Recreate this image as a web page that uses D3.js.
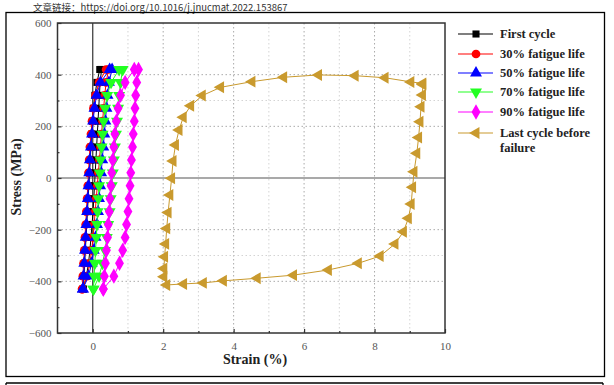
<!DOCTYPE html>
<html><head><meta charset="utf-8">
<script src="https://cdn.jsdelivr.net/npm/d3@7"></script>
<style>body{margin:0;background:#fff}svg{display:block}</style>
</head><body>
<svg id="c" width="614" height="385"></svg>
<script>
// ---------- data ----------
const stressLevels = [-430,-380,-330,-280,-230,-180,-130,-80,-30,20,70,120,170,220,270,320,370,420];
// strain (%) on the lower-right (unloading) branch and the upper-left (loading) branch at each stress level
const firstRight = [-0.27,-0.18,-0.12,-0.08,-0.05,-0.02,0.01,0.03,0.05,0.07,0.09,0.11,0.13,0.15,0.17,0.19,0.21,0.25];
const firstLeft  = [-0.27,-0.25,-0.23,-0.21,-0.19,-0.17,-0.15,-0.13,-0.11,-0.09,-0.07,-0.05,-0.03,-0.01,0.02,0.06,0.12,0.20];
const f30Right = [-0.30,-0.16,-0.08,-0.03,0.01,0.04,0.07,0.10,0.13,0.16,0.19,0.22,0.25,0.28,0.31,0.34,0.38,0.45];
const f30Left  = [-0.30,-0.28,-0.26,-0.24,-0.22,-0.20,-0.18,-0.16,-0.14,-0.12,-0.10,-0.08,-0.05,-0.02,0.02,0.08,0.18,0.38];
const f50Right = [-0.28,-0.12,-0.03,0.03,0.08,0.12,0.15,0.18,0.21,0.24,0.27,0.30,0.33,0.36,0.39,0.42,0.46,0.55];
const f50Left  = [-0.28,-0.26,-0.24,-0.22,-0.20,-0.18,-0.16,-0.14,-0.12,-0.10,-0.08,-0.05,-0.02,0.01,0.05,0.11,0.22,0.48];
const f70Right = [0.02,0.18,0.28,0.35,0.40,0.44,0.48,0.51,0.54,0.57,0.60,0.63,0.66,0.69,0.72,0.75,0.79,0.85];
const f70Left  = [0.02,0.04,0.06,0.08,0.10,0.12,0.14,0.16,0.18,0.20,0.22,0.25,0.28,0.31,0.35,0.41,0.52,0.75];
const f90Right = [0.30,0.60,0.76,0.85,0.92,0.96,1.00,1.03,1.06,1.08,1.10,1.13,1.15,1.18,1.20,1.22,1.25,1.30];
const f90Left  = [0.30,0.33,0.36,0.39,0.42,0.44,0.47,0.49,0.52,0.54,0.57,0.60,0.63,0.67,0.72,0.79,0.92,1.18];
// last cycle before failure, in drawing order
const lastStrain = [9.37,9.03,8.30,7.45,6.41,5.42,4.52,3.63,3.11,2.78,2.57,2.45,2.35,2.28,2.24,2.19,2.14,2.10,2.07,2.04,2.02,2.02,2.10,
  2.58,3.14,3.71,4.67,5.70,6.69,7.54,8.16,8.58,8.82,8.96,9.04,9.08,9.12,9.20,9.25,9.29,9.32,9.36,9.37];
const lastStress = [366,372,388,396,399,390,373,351,319,280,235,186,128,66,-1,-66,-134,-195,-255,-305,-350,-382,-414,
  -410,-406,-398,-388,-376,-356,-330,-302,-255,-208,-156,-101,-36,24,96,157,218,276,321,362];

const seriesNames = ["First cycle","30% fatigue life","50% fatigue life","70% fatigue life","90% fatigue life","Last cycle before failure"];
const seriesColors = ["#000000","#ff0000","#0000ff","#22ff22","#ff00ff","#c99a2e"];
const xTicks = [0,2,4,6,8,10];
const yTicks = [-600,-400,-200,0,200,400,600];
const caption = "文章链接：https://doi.org/10.1016/j.jnucmat.2022.153867";

// ---------- build ----------
function loop(right, left){
  const pts = stressLevels.map((s,i)=>({x:right[i], y:s}));
  for(let i=stressLevels.length-1;i>=0;i--) pts.push({x:left[i], y:stressLevels[i]});
  return pts;
}
const series = [
  {pts:loop(firstRight,firstLeft), sym:d3.symbolSquare, size:50, rot:0},
  {pts:loop(f30Right,f30Left), sym:d3.symbolCircle, size:60, rot:0},
  {pts:loop(f50Right,f50Left), sym:d3.symbolTriangle, size:62, rot:0},
  {pts:loop(f70Right,f70Left), sym:d3.symbolTriangle, size:62, rot:180},
  {pts:loop(f90Right,f90Left), sym:d3.symbolDiamond, size:68, rot:0},
  {pts:lastStrain.map((v,i)=>({x:v,y:lastStress[i]})), sym:d3.symbolTriangle, size:62, rot:-90}
];
series.forEach((s,i)=>{s.name=seriesNames[i]; s.color=seriesColors[i];});

const svg = d3.select("#c");
const L=57.5, R=445, T=23, B=333;
const x = d3.scaleLinear().domain([-1,10]).range([L,R]);
const y = d3.scaleLinear().domain([-600,600]).range([B,T]);

// caption and outer boxes
svg.append("text").attr("x",33).attr("y",11.2).attr("font-family","Noto Sans CJK SC").attr("font-size",9.5)
  .attr("fill","#333").text(caption);
svg.append("rect").attr("x",6).attr("y",12.5).attr("width",598.5).attr("height",364).attr("fill","none").attr("stroke","#000").attr("stroke-width",1.3);
svg.append("line").attr("x1",6).attr("x2",603).attr("y1",383).attr("y2",383).attr("stroke","#000").attr("stroke-width",1.3);
svg.append("line").attr("x1",6).attr("x2",6).attr("y1",383).attr("y2",385).attr("stroke","#000").attr("stroke-width",1.3);
svg.append("line").attr("x1",603).attr("x2",603).attr("y1",383).attr("y2",385).attr("stroke","#000").attr("stroke-width",1.3);

// grid
const g = svg.append("g");
d3.range(1,10).forEach(v=>{
  g.append("line").attr("x1",x(v)).attr("x2",x(v)).attr("y1",T).attr("y2",B)
   .attr("stroke", v%2===0?"#aaa":"#d4d4d4").attr("stroke-width",1).attr("stroke-dasharray","1.5,2.5");
});
[-400,-300,-200,200,300,400].forEach(v=>{
  g.append("line").attr("x1",L).attr("x2",R).attr("y1",y(v)).attr("y2",y(v))
   .attr("stroke", Math.abs(v)===300?"#d4d4d4":"#aaa").attr("stroke-width",1).attr("stroke-dasharray","1.5,2.5");
});
// zero lines
g.append("line").attr("x1",x(0)).attr("x2",x(0)).attr("y1",T).attr("y2",B).attr("stroke","#444").attr("stroke-width",1.3);
g.append("line").attr("x1",L).attr("x2",R).attr("y1",y(0)).attr("y2",y(0)).attr("stroke","#555").attr("stroke-width",1.2);

// axes
const xAxis = svg.append("g").attr("transform",`translate(0,${B})`)
  .call(d3.axisBottom(x).tickValues(xTicks).tickSizeInner(-4).tickSizeOuter(0).tickPadding(9));
const xMinor = svg.append("g").attr("transform",`translate(0,${B})`)
  .call(d3.axisBottom(x).tickValues([1,3,5,7,9]).tickSizeInner(-2).tickSizeOuter(0).tickFormat(""));
const yAxis = svg.append("g").attr("transform",`translate(${L},0)`)
  .call(d3.axisLeft(y).tickValues(yTicks).tickSizeInner(-4).tickSizeOuter(0).tickPadding(6));
const yMinor = svg.append("g").attr("transform",`translate(${L},0)`)
  .call(d3.axisLeft(y).tickValues([-500,-300,-100,100,300,500]).tickSizeInner(-2).tickSizeOuter(0).tickFormat(""));
[xAxis,xMinor,yAxis,yMinor].forEach(a=>{
  a.select(".domain").remove();
  a.selectAll("line").attr("stroke","#333").attr("stroke-width",1.2);
  a.selectAll("text").attr("font-family","Liberation Serif").attr("font-size",11).attr("fill","#555");
});
svg.append("rect").attr("x",L).attr("y",T).attr("width",R-L).attr("height",B-T).attr("fill","none").attr("stroke","#333").attr("stroke-width",1.5);

// axis titles
svg.append("text").attr("x",255).attr("y",364).attr("text-anchor","middle").attr("font-family","Liberation Serif")
  .attr("font-weight","bold").attr("font-size",14).attr("fill","#222").text("Strain (%)");
svg.append("text").attr("transform","translate(21,177) rotate(-90)").attr("text-anchor","middle").attr("font-family","Liberation Serif")
  .attr("font-weight","bold").attr("font-size",14).attr("fill","#222").text("Stress (MPa)");

// series
const line = d3.line().x(d=>x(d.x)).y(d=>y(d.y));
series.forEach(s=>{
  const sg = svg.append("g");
  sg.append("path").attr("d",line(s.pts)).attr("fill","none").attr("stroke",s.color).attr("stroke-width",1);
  sg.selectAll("path.m").data(s.pts).enter().append("path").attr("class","m")
    .attr("d",d3.symbol().type(s.sym).size(s.size))
    .attr("transform",d=>`translate(${x(d.x)},${y(d.y)}) rotate(${s.rot})`)
    .attr("fill",s.color);
});

// legend
const lg = svg.append("g");
const rowsY = [34,54,73,92,112,133];
series.forEach((s,i)=>{
  const yy = rowsY[i];
  lg.append("line").attr("x1",458).attr("x2",493).attr("y1",yy).attr("y2",yy).attr("stroke",s.color).attr("stroke-width",1.2);
  lg.append("path").attr("d",d3.symbol().type(s.sym).size(s.size)).attr("transform",`translate(476,${yy}) rotate(${s.rot})`).attr("fill",s.color);
  const t = lg.append("text").attr("x",500).attr("y",yy+4).attr("font-family","Liberation Serif").attr("font-weight","bold")
    .attr("font-size",12.5).attr("fill","#222");
  if(i===5){
    t.text("Last cycle before");
    lg.append("text").attr("x",500).attr("y",yy+19).attr("font-family","Liberation Serif").attr("font-weight","bold")
      .attr("font-size",12.5).attr("fill","#222").text("failure");
  } else t.text(s.name);
});
</script>
</body></html>
